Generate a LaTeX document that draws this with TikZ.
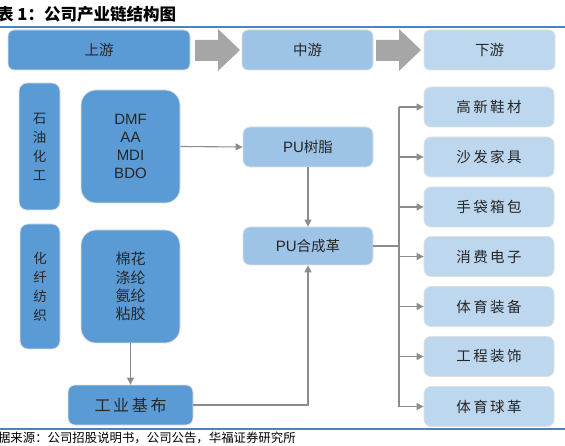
\documentclass[tikz,border=0pt]{standalone}
\usepackage{fontspec}
\setmainfont{Liberation Sans}
\newfontfamily\cjk{Noto Sans CJK SC}
\usetikzlibrary{arrows.meta}
\definecolor{upc}{HTML}{5B9BD5}
\definecolor{midc}{HTML}{9DC3E6}
\definecolor{dnc}{HTML}{BDD7EE}
\definecolor{arrg}{HTML}{A6A6A6}
\definecolor{lineg}{HTML}{8C8C8C}
\definecolor{rulec}{HTML}{4F81BD}
\definecolor{txt}{HTML}{262626}
\begin{document}
\begin{tikzpicture}[x=1pt,y=-1pt,
  box/.style={rectangle, rounded corners=6pt, draw=black!12, line width=0.8pt, inner sep=0pt, text=txt, align=center, font=\fontsize{14.5}{18}\selectfont\cjk},
  upbox/.style={box, fill=upc},
  midbox/.style={box, fill=midc},
  dnbox/.style={box, fill=dnc, minimum width=130pt, minimum height=40pt},
  conn/.style={draw=lineg, line width=1.1pt, -{Triangle[length=7pt,width=7pt]}},
  plain/.style={draw=lineg, line width=1.1pt},
  chev/.style={fill=arrg},
  rulel/.style={draw=rulec, line width=1.2pt}]
\useasboundingbox (0,0) rectangle (565,446);
% title and rules
\node[anchor=west, inner sep=0pt, text=black, font=\fontsize{16.5}{18}\selectfont\cjk\bfseries] (title) at (-3,14) {表 1：公司产业链结构图};
\draw[rulel] (0,27) -- (565,27);
\draw[rulel] (0,429) -- (565,429);
\node[anchor=west, inner sep=0pt, text=black, font=\fontsize{12.4}{14}\selectfont\cjk] (src) at (-14.5,438) {数据来源：公司招股说明书，公司公告，华福证券研究所};
% headers
\node[upbox, minimum width=182pt, minimum height=40pt] (hup) at (99,50) {上游};
\node[midbox, minimum width=131pt, minimum height=40pt] (hmid) at (307.5,50) {中游};
\node[dnbox, minimum width=131pt, minimum height=40pt] (hdn) at (489.5,50) {下游};
\fill[chev] (195,40) -- (218,40) -- (218,29) -- (240,50) -- (218,71) -- (218,61) -- (195,61) -- cycle;
\fill[chev] (376,40) -- (399,40) -- (399,29) -- (421,50) -- (399,71) -- (399,61) -- (376,61) -- cycle;
% upstream
\node[upbox, rounded corners=8pt, minimum width=41pt, minimum height=127pt, font=\fontsize{13.5}{19}\selectfont\cjk] (petro) at (39.5,146.5) {石\\油\\化\\工};
\node[upbox, rounded corners=15pt, minimum width=99pt, minimum height=113pt, font=\fontsize{15}{18}\selectfont] (dmf) at (130.5,146.5) {DMF\\AA\\MDI\\BDO};
\node[upbox, rounded corners=8pt, minimum width=40pt, minimum height=125pt, font=\fontsize{13.5}{19}\selectfont\cjk] (fiber) at (40,286.5) {化\\纤\\纺\\织};
\node[upbox, rounded corners=15pt, minimum width=99pt, minimum height=113pt, font=\fontsize{15}{18.3}\selectfont\cjk] (cot) at (130.5,286.5) {棉花\\涤纶\\氨纶\\粘胶};
\node[upbox, rounded corners=7pt, minimum width=125pt, minimum height=40pt, font=\fontsize{16}{18}\selectfont\cjk] (base) at (130.5,405) {工\,业\,基\,布};
% midstream
\node[midbox, rounded corners=7pt, minimum width=130pt, minimum height=40pt] (pur) at (308,147) {{\fontsize{15}{18}\rmfamily PU}树脂};
\node[midbox, rounded corners=7pt, minimum width=130pt, minimum height=38pt] (puc) at (308,246) {{\fontsize{15}{18}\rmfamily PU}合成革};
% downstream
\node[dnbox, rounded corners=7pt] (d1) at (489,107) {高\,新\,鞋\,材};
\node[dnbox, rounded corners=7pt] (d2) at (489,157) {沙\,发\,家\,具};
\node[dnbox, rounded corners=7pt] (d3) at (489,207) {手\,袋\,箱\,包};
\node[dnbox, rounded corners=7pt] (d4) at (489,256.5) {消\,费\,电\,子};
\node[dnbox, rounded corners=7pt] (d5) at (489,306.5) {体\,育\,装\,备};
\node[dnbox, rounded corners=7pt] (d6) at (489,356.5) {工\,程\,装\,饰};
\node[dnbox, rounded corners=7pt] (d7) at (489,406.5) {体\,育\,球\,革};
% connectors
\draw[conn] (dmf.east) -- (pur.west);
\draw[conn] (pur.south) -- (puc.north);
\draw[conn] (cot.south) -- (base.north);
\draw[conn] (base.east) -| (puc.south);
\coordinate (trunk) at (399,246);
\draw[plain] (puc.east) -- (trunk);
\draw[plain] (d1.west -| trunk) -- (d7.west -| trunk);
\foreach \d in {d1,d2,d3,d4,d5,d6,d7}{
  \draw[conn] (\d.west -| trunk) -- (\d.west);
}
\end{tikzpicture}
\end{document}
